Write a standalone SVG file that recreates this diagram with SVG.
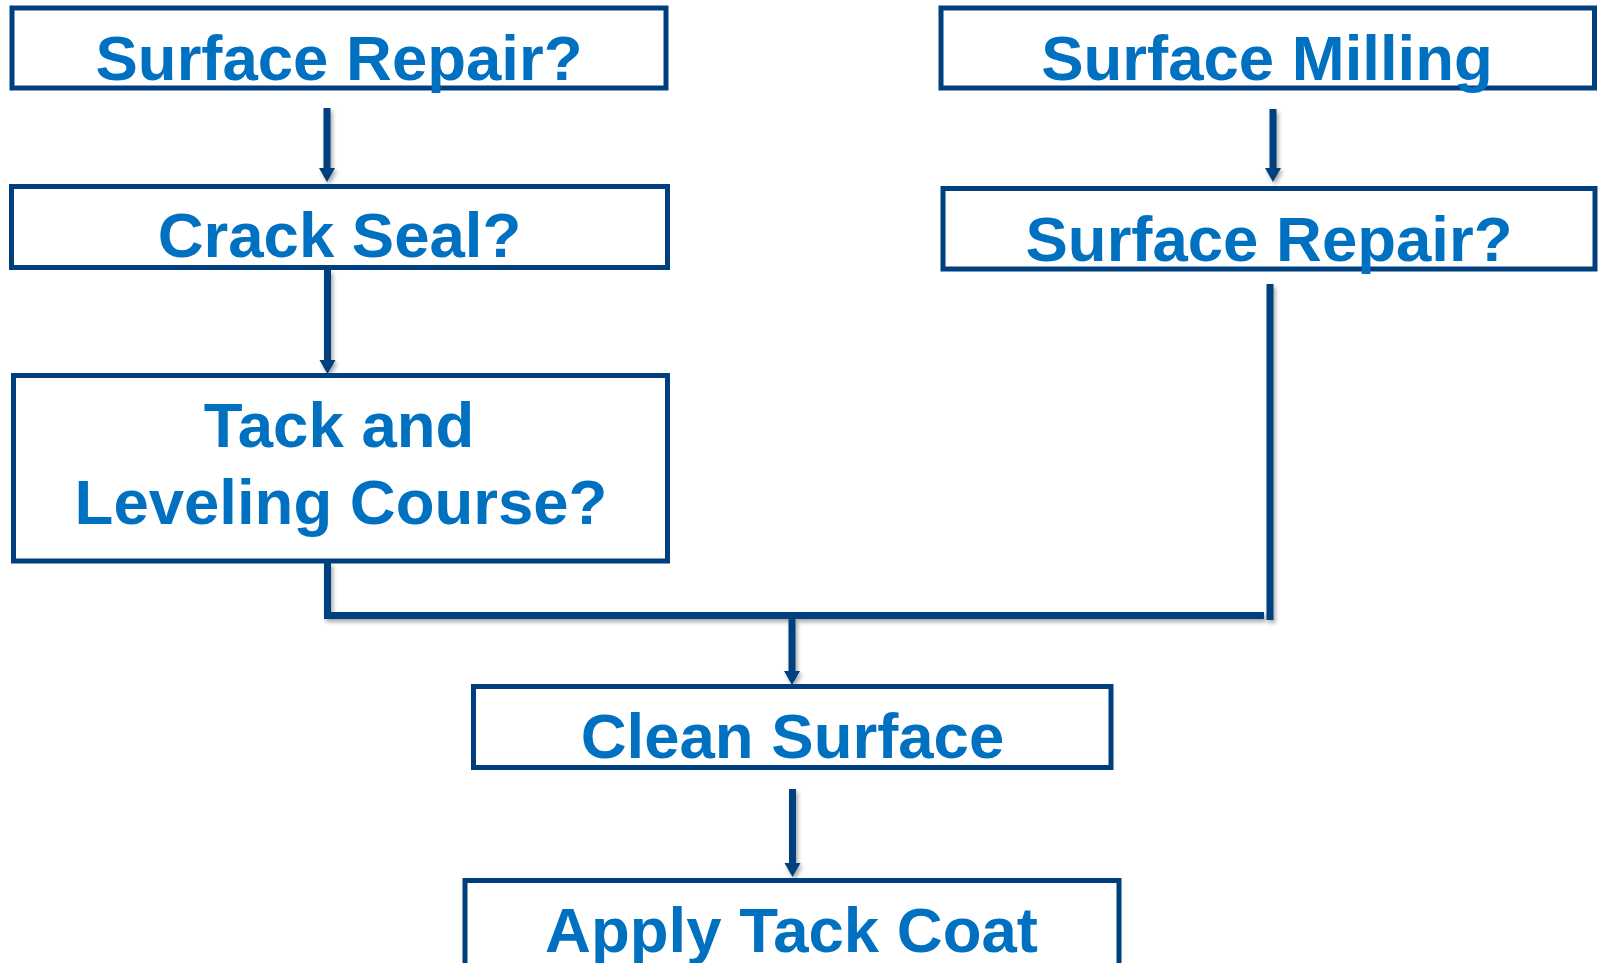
<svg xmlns="http://www.w3.org/2000/svg" width="1598" height="963" viewBox="0 0 1598 963">
  <defs>
    <style>
      .box { fill: #ffffff; stroke: #003F7F; stroke-width: 5; }
      .label { font-family: "Liberation Sans", Arial, sans-serif; font-weight: bold; font-size: 63.5px; fill: #0070C0; text-anchor: middle; }
      .wire { fill: none; stroke: #003F7F; stroke-width: 7; stroke-linejoin: miter; stroke-linecap: butt; }
      .head { fill: #003F7F; }
    </style>
    <filter id="shade" x="-20%" y="-20%" width="140%" height="140%">
      <feGaussianBlur in="SourceAlpha" stdDeviation="2"/>
      <feOffset dx="2" dy="3" result="b"/>
      <feComponentTransfer><feFuncA type="linear" slope="0.35"/></feComponentTransfer>
      <feMerge><feMergeNode/><feMergeNode in="SourceGraphic"/></feMerge>
    </filter>
  </defs>

  <rect width="1598" height="963" fill="#ffffff"/>

  <!-- connectors -->
  <g id="connectors" filter="url(#shade)">
    <path class="wire" d="M327,108 V168"/>
    <polygon class="head" points="319,168 335,168 327,182"/>
    <path class="wire" d="M327.5,270 V360"/>
    <polygon class="head" points="319.5,360 335.5,360 327.5,374"/>
    <path class="wire" d="M1273,109 V168"/>
    <polygon class="head" points="1265,168 1281,168 1273,182"/>
    <path class="wire" d="M327.5,563 V615.5 H1264"/>
    <path class="wire" d="M1270,284 V620"/>
    <path class="wire" d="M792,619 V671"/>
    <polygon class="head" points="784,671 800,671 792,685"/>
    <path class="wire" d="M792.5,789 V863"/>
    <polygon class="head" points="784.5,863 800.5,863 792.5,877"/>
  </g>

  <!-- left column -->
  <g id="surface-repair-left">
    <rect class="box" x="12" y="8" width="654" height="80"/>
    <text class="label" x="339" y="80">Surface Repair?</text>
  </g>
  <g id="crack-seal">
    <rect class="box" x="11.5" y="186.5" width="656" height="81"/>
    <text class="label" x="339.5" y="257">Crack Seal?</text>
  </g>
  <g id="tack-leveling">
    <rect class="box" x="13.5" y="375.5" width="654" height="185.5"/>
    <text class="label" x="339" y="447">Tack and</text>
    <text class="label" x="341" y="524">Leveling Course?</text>
  </g>

  <!-- right column -->
  <g id="surface-milling">
    <rect class="box" x="941" y="8" width="653.5" height="80"/>
    <text class="label" x="1267" y="80">Surface Milling</text>
  </g>
  <g id="surface-repair-right">
    <rect class="box" x="943" y="188.5" width="652" height="80.5"/>
    <text class="label" x="1269" y="261">Surface Repair?</text>
  </g>

  <!-- shared steps -->
  <g id="clean-surface">
    <rect class="box" x="473.5" y="686.5" width="637.5" height="81"/>
    <text class="label" x="792.5" y="758">Clean Surface</text>
  </g>
  <g id="apply-tack-coat">
    <rect class="box" x="465" y="880.5" width="654" height="100"/>
    <text class="label" x="791.5" y="952">Apply Tack Coat</text>
  </g>
</svg>
